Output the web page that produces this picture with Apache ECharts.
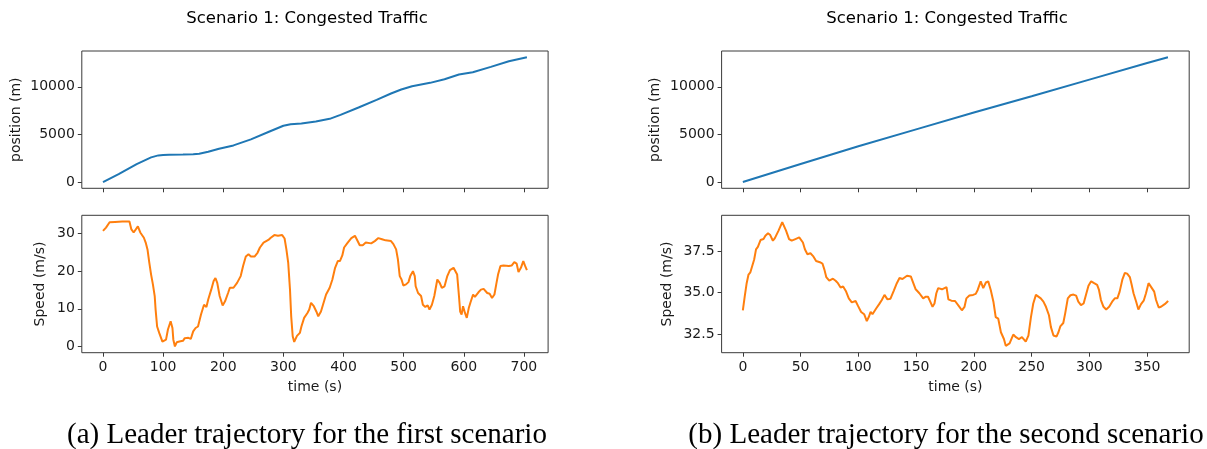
<!DOCTYPE html>
<html>
<head>
<meta charset="utf-8">
<script src="https://cdn.jsdelivr.net/npm/echarts@6/dist/echarts.min.js"></script>
<style>
html,body{margin:0;padding:0;background:#fff;}
#chart{width:1207px;height:449px;}
</style>
</head>
<body>
<div id="chart"></div>
<script>
// ---------- data ----------
const titleText = 'Scenario 1: Congested Traffic';
const captionA = '(a) Leader trajectory for the first scenario';
const captionB = '(b) Leader trajectory for the second scenario';

const leftTimeTicks = [0, 100, 200, 300, 400, 500, 600, 700];
const rightTimeTicks = [0, 50, 100, 150, 200, 250, 300, 350];
const positionTicks = [0, 5000, 10000];
const leftSpeedTicks = [0, 10, 20, 30];
const rightSpeedTicks = [32.5, 35.0, 37.5];

// scenario (a): position [t, m]
const leftPosition = [[0,0],[26,840],[56,1890],[80,2590],[92,2800],[100,2840],[110,2870],[133,2900],[150,2930],[160,2970],[175,3180],[193,3500],[217,3850],[246,4480],[276,5280],[300,5910],[312,6080],[330,6150],[354,6360],[377,6640],[395,7060],[425,7830],[455,8640],[479,9300],[496,9720],[514,10070],[544,10420],[568,10800],[592,11290],[615,11540],[645,12100],[675,12690],[705,13110]];

// scenario (a): speed [t, m/s]
const leftSpeed = [[0,30.7],[5,31.6],[11,33.0],[20,33.1],[32,33.2],[44,33.2],[47,31.2],[51,30.3],[54,30.5],[58,31.9],[62,30.3],[65,30.0],[68,28.9],[71,27.6],[74,25.8],[77,22.3],[80,19.1],[83,16.5],[86,13.4],[87.5,9.8],[90,5.3],[93.5,3.6],[96.4,3.1],[98.8,1.3],[101.8,0.9],[104.8,1.8],[108,4.5],[112.5,6.7],[114,7.1],[115.5,4.9],[117,1.8],[119.6,0.0],[122.6,1.1],[127,1.3],[133,1.5],[136,2.2],[142,2.3],[146,2.0],[150,4.0],[154,4.9],[158,5.3],[163,8.5],[168,11.1],[172,10.5],[175,12.5],[180,15.1],[184,17.4],[187,18.2],[190,16.9],[194,13.4],[199,10.9],[203,12.0],[208,14.2],[211,15.6],[217,15.6],[223,16.9],[229,18.7],[233,21.4],[237.5,23.9],[242,24.5],[246,23.9],[252,23.9],[257,24.9],[261,26.3],[267,27.6],[275,28.3],[279,28.9],[285,29.6],[291,29.4],[298,29.6],[302,28.7],[305,25.8],[308,22.3],[311,15.1],[313,8.0],[315.5,2.7],[318,1.2],[321,1.3],[322.6,2.8],[325.6,2.7],[327.4,3.6],[330,5.3],[334.5,7.6],[340,8.9],[343,9.8],[346,11.6],[350.6,10.7],[354.8,9.3],[358,8.0],[362.5,9.3],[365.5,9.8],[368.5,12.5],[371,13.8],[377,15.6],[381.5,17.8],[386,20.9],[390.5,22.7],[394,22.7],[398,24.2],[401,26.3],[407,27.6],[413,28.8],[419,29.4],[422,28.5],[427,26.9],[432,26.9],[437,27.6],[446,27.4],[452,28.0],[458,28.8],[464,28.5],[470,28.2],[479,28.0],[483,27.2],[487.5,25.8],[490.5,23.1],[493.5,18.7],[496.5,17.8],[499.5,16.2],[504,16.5],[508,17.1],[511,18.7],[515.5,20.0],[518.5,18.7],[520,16.0],[524,14.2],[526,14.7],[529,13.4],[532,11.1],[536,10.5],[540,10.9],[543,9.8],[547,11.1],[551,13.4],[556,17.8],[560,16.9],[563.5,15.6],[568,16.0],[572.6,18.7],[577,20.3],[583,20.9],[586,21.4],[589,19.1],[592,13.4],[594,9.3],[596.4,8.5],[598.8,10.7],[602,8.9],[605,7.6],[608.3,10.2],[611,11.6],[615.5,13.8],[618.5,13.2],[624.4,14.4],[628.6,15.1],[633,15.3],[636,15.8],[639,14.2],[643,14.0],[647,12.9],[651,13.8],[654,16.5],[657,19.1],[661,21.4],[666,21.5],[675,21.4],[679.6,21.5],[684,22.4],[688,22.0],[691,19.8],[695,20.9],[699,22.7],[702,21.4],[705,20.3]];

// scenario (b): position [t, m]
const rightPosition = [[0,0],[50,1900],[100,3750],[150,5530],[200,7300],[250,9000],[300,10750],[350,12500],[368,13100]];

// scenario (b): speed [t, m/s]
const rightSpeed = [[0,33.93],[1.6,34.75],[3.3,35.57],[4.9,36.09],[6.5,36.23],[8.1,36.23],[9.8,37.0],[11.4,37.62],[13,37.77],[15.3,38.18],[17.9,38.24],[19.5,38.44],[21.8,38.59],[23.7,38.48],[26,38.14],[27.6,38.28],[30.9,38.75],[34.1,39.26],[35.1,39.3],[37.4,38.75],[40,38.24],[42.3,38.14],[45.5,38.24],[48.8,38.34],[50.4,38.28],[52,38.03],[53.7,37.62],[55.9,37.32],[58.5,37.38],[60.8,37.21],[63.4,36.91],[66.7,36.84],[68.9,36.76],[70.6,36.39],[72.2,35.94],[74.8,35.72],[78,35.84],[80.3,35.72],[82.3,35.57],[84.6,35.31],[86.8,35.37],[89.4,35.06],[91.7,34.65],[94.3,34.41],[97.6,34.49],[99.8,34.18],[102.4,33.83],[105,33.69],[107.3,33.28],[109,33.52],[110.6,33.83],[112.2,33.69],[115.4,34.04],[118,34.30],[120.3,34.55],[122.6,34.86],[125.2,34.59],[127.8,34.63],[130.7,35.12],[133.3,35.57],[135.6,35.88],[138.2,35.82],[139.8,35.82],[142.1,36.02],[145.4,35.98],[147,35.68],[149.6,35.2],[152.8,34.96],[156.1,34.65],[158.4,34.75],[160.3,34.75],[162.6,34.39],[164.2,34.14],[165.9,34.34],[167.5,34.96],[169.1,35.27],[172.4,35.20],[174,35.27],[176.3,35.33],[177.9,34.59],[180.5,34.51],[183.7,34.49],[187,34.18],[189.6,33.93],[191.9,34.14],[193.5,34.65],[196.1,34.82],[199.3,34.86],[201.6,34.92],[203.3,35.16],[205.9,35.68],[208.1,35.27],[210.4,35.61],[212.4,35.68],[214.6,35.16],[216.9,34.45],[218.9,33.52],[221.1,33.42],[223.4,32.6],[226,32.19],[227.6,31.78],[229.3,31.74],[230.9,31.93],[234.1,32.46],[236.4,32.30],[239,32.19],[241.6,32.30],[243.3,32.19],[244.9,32.03],[247.2,32.40],[249.4,33.52],[251.4,34.34],[253.7,34.86],[255.3,34.86],[257.9,34.65],[260.2,34.45],[262.4,34.14],[265,33.63],[266.7,32.91],[268.9,32.40],[271.5,32.34],[273.2,32.60],[274.8,32.95],[277.4,33.16],[279,33.73],[281.3,34.65],[283.6,34.84],[286.2,34.88],[288.5,34.82],[290.4,34.45],[292.7,34.24],[295,34.34],[297,34.86],[299.2,35.41],[301.5,35.68],[304.1,35.57],[306.7,35.47],[308.3,35.16],[310,34.55],[312.2,34.14],[314.5,33.98],[317.1,34.14],[319.7,34.45],[322,34.65],[324.2,34.65],[326.2,35.06],[328.5,35.78],[330.7,36.19],[332.7,36.15],[335,35.94],[336.6,35.47],[338.2,34.96],[340.5,34.45],[342.4,33.98],[344.7,34.30],[347,34.51],[349,34.96],[351.2,35.57],[353.5,35.33],[356.1,35.06],[357.7,34.55],[360,34.10],[362,34.14],[363.6,34.04],[365.2,34.30],[367.5,34.45],[368,34.51]];

// ---------- chart ----------
const FONT = '"DejaVu Sans", sans-serif';
const TXT = '#1a1a1a';
const FRAME = '#3a3a3a';
const BLUE = '#1f77b4';
const ORANGE = '#ff7f0e';
const TICK_FS = 14;

function padded(data, idx) {
  const vals = data.map(d => d[idx]);
  const lo = Math.min(...vals), hi = Math.max(...vals);
  const r = hi - lo;
  return [lo - 0.05 * r, hi + 0.05 * r];
}

const L = {left: 81.8, width: 466.3};
const R = {left: 721.6, width: 467.6};
const TOP = {top: 51, height: 137.3};
const BOT = {top: 215.3, height: 137.4};

const grids = [
  Object.assign({}, L, TOP),
  Object.assign({}, L, BOT),
  Object.assign({}, R, TOP),
  Object.assign({}, R, BOT)
].map(g => Object.assign(g, {show: true, borderColor: FRAME, borderWidth: 1, backgroundColor: '#fff', containLabel: false}));

function xAxis(gi, data, ticks, showLabels) {
  const [mn, mx] = padded(data, 0);
  return {
    type: 'value', gridIndex: gi, min: mn, max: mx, position: 'bottom',
    axisLine: {show: false, onZero: false},
    splitLine: {show: false},
    axisTick: {show: true, inside: false, length: 4, customValues: ticks, lineStyle: {color: FRAME, width: 1}},
    axisLabel: {show: showLabels, customValues: ticks, margin: 8, color: TXT, fontFamily: FONT, fontSize: TICK_FS},
    name: showLabels ? 'time (s)' : '',
    nameLocation: 'middle', nameGap: 28,
    nameTextStyle: {color: TXT, fontFamily: FONT, fontSize: TICK_FS}
  };
}
function yAxis(gi, data, ticks, name, gap, fmt) {
  const [mn, mx] = padded(data, 1);
  return {
    type: 'value', gridIndex: gi, min: mn, max: mx, position: 'left',
    axisLine: {show: false, onZero: false},
    splitLine: {show: false},
    axisTick: {show: true, inside: false, length: 4, customValues: ticks, lineStyle: {color: FRAME, width: 1}},
    axisLabel: {show: true, customValues: ticks, margin: 7, color: TXT, fontFamily: FONT, fontSize: TICK_FS,
      formatter: fmt || (v => String(v))},
    name: name, nameLocation: 'middle', nameRotate: 90, nameGap: gap,
    nameTextStyle: {color: TXT, fontFamily: FONT, fontSize: TICK_FS}
  };
}
function line(gi, data, color) {
  return {type: 'line', xAxisIndex: gi, yAxisIndex: gi, data: data, showSymbol: false, symbol: 'none',
    lineStyle: {color: color, width: 2}, silent: true, animation: false, z: 3};
}

function label(x, y, text, size, family) {
  return {type: 'text', x: x, y: y, silent: true,
    style: {text: text, fill: '#000', fontSize: size, fontFamily: family,
      align: 'center', verticalAlign: 'middle', textAlign: 'center', textVerticalAlign: 'middle'}};
}

const option = {
  animation: false,
  backgroundColor: '#fff',
  grid: grids,
  xAxis: [
    xAxis(0, leftPosition, leftTimeTicks, false),
    xAxis(1, leftSpeed, leftTimeTicks, true),
    xAxis(2, rightPosition, rightTimeTicks, false),
    xAxis(3, rightSpeed, rightTimeTicks, true)
  ],
  yAxis: [
    yAxis(0, leftPosition, positionTicks, 'position (m)', 58),
    yAxis(1, leftSpeed, leftSpeedTicks, 'Speed (m/s)', 34),
    yAxis(2, rightPosition, positionTicks, 'position (m)', 59),
    yAxis(3, rightSpeed, rightSpeedTicks, 'Speed (m/s)', 47, v => v.toFixed(1))
  ],
  series: [
    line(0, leftPosition, BLUE),
    line(1, leftSpeed, ORANGE),
    line(2, rightPosition, BLUE),
    line(3, rightSpeed, ORANGE)
  ],
  graphic: [
    label(307, 18.5, titleText, 16.5, 'DejaVu Sans'),
    label(947, 18.5, titleText, 16.5, 'DejaVu Sans'),
    label(307, 435, captionA, 29, 'Liberation Serif'),
    label(946, 435, captionB, 29, 'Liberation Serif')
  ]
};

const chart = echarts.init(document.getElementById('chart'), null, {renderer: 'canvas'});
chart.setOption(option);
</script>
</body>
</html>
